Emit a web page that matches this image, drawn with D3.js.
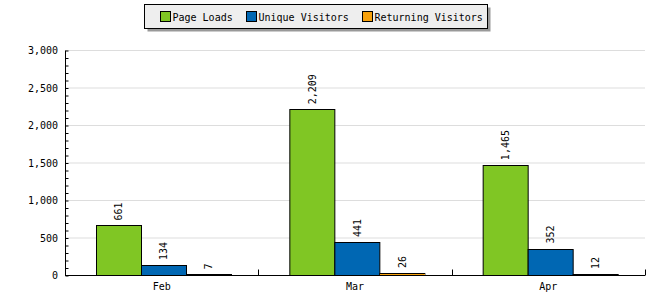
<!DOCTYPE html>
<html>
<head>
<meta charset="utf-8">
<script src="https://cdn.jsdelivr.net/npm/d3@7"></script>
<style>
  body { margin: 0; background: #fff; }
  text { font-family: "DejaVu Sans Mono", monospace; font-size: 10px; fill: #000; }
</style>
</head>
<body>
<svg width="650" height="300"></svg>
<script>
const months = ['Feb', 'Mar', 'Apr'];
const seriesNames = ['Page Loads', 'Unique Visitors', 'Returning Visitors'];
const pageLoads = [661, 2209, 1465];
const uniqueVisitors = [134, 441, 352];
const returningVisitors = [7, 26, 12];
const yTicks = [0, 500, 1000, 1500, 2000, 2500, 3000];
const colors = ['#80c624', '#0067b3', '#f7a10c'];

const series = [pageLoads, uniqueVisitors, returningVisitors];
const data = months.map((m, i) => ({
  month: m,
  values: series.map((s, j) => ({ key: seriesNames[j], value: s[i] }))
}));

const svg = d3.select('svg');
const plotLeft = 65, plotRight = 645, plotTop = 50, plotBottom = 275;

const x0 = d3.scaleBand().domain(months).range([plotLeft, plotRight]);
const x1 = d3.scaleBand().domain(seriesNames).range([0, x0.bandwidth()]).paddingOuter(0.65).align(0.53);
const y = d3.scaleLinear().domain([0, 3000]).range([plotBottom, plotTop]);
const color = d3.scaleOrdinal().domain(seriesNames).range(colors);

// gridlines
svg.append('g')
  .selectAll('line')
  .data(yTicks.filter(d => d > 0))
  .join('line')
  .attr('x1', plotLeft + 1).attr('x2', plotRight)
  .attr('y1', d => y(d) + 0.5).attr('y2', d => y(d) + 0.5)
  .attr('stroke', '#dddddd');

// y axis, major + minor ticks pointing inside
const yAxis = svg.append('g').attr('transform', `translate(${plotLeft + 0.5},0.5)`);
yAxis.call(d3.axisRight(y).tickValues(d3.range(0, 3001, 100)).tickSize(3).tickFormat(''))
  .call(g => g.select('.domain').remove());
yAxis.selectAll('line').attr('stroke', '#000');
yAxis.append('line').attr('x1', 0).attr('x2', 0).attr('y1', plotTop).attr('y2', plotBottom).attr('stroke', '#000');

svg.append('g')
  .selectAll('text')
  .data(yTicks)
  .join('text')
  .attr('x', plotLeft - 7)
  .attr('y', d => y(d) + 4)
  .attr('text-anchor', 'end')
  .text(d3.format(','));

// bars
const groups = svg.append('g')
  .selectAll('g')
  .data(data)
  .join('g')
  .attr('transform', d => `translate(${x0(d.month)},0)`);

groups.selectAll('rect')
  .data(d => d.values)
  .join('rect')
  .attr('x', d => Math.round(x1(d.key)) + 0.5)
  .attr('y', d => Math.round(y(d.value)) + 0.5)
  .attr('width', Math.round(x1.bandwidth()))
  .attr('height', d => Math.max(0, plotBottom - Math.round(y(d.value))))
  .attr('fill', d => color(d.key))
  .attr('stroke', '#000');

groups.selectAll('text')
  .data(d => d.values)
  .join('text')
  .attr('transform', d => `translate(${x1(d.key) + x1.bandwidth() / 2 + 4},${y(d.value) - 5}) rotate(-90)`)
  .text(d => d3.format(',')(d.value));

// x axis
const xAxis = svg.append('g').attr('transform', `translate(0,${plotBottom + 0.5})`);
xAxis.append('line').attr('x1', plotLeft).attr('x2', plotRight).attr('stroke', '#000');
xAxis.selectAll('line.tick')
  .data(months)
  .join('line')
  .attr('class', 'tick')
  .attr('x1', d => Math.round(x0(d) + x0.bandwidth()) + 0.5)
  .attr('x2', d => Math.round(x0(d) + x0.bandwidth()) + 0.5)
  .attr('y1', 0).attr('y2', -6)
  .attr('stroke', '#000');
xAxis.selectAll('text')
  .data(months)
  .join('text')
  .attr('x', d => x0(d) + x0.bandwidth() / 2)
  .attr('y', 14)
  .attr('text-anchor', 'middle')
  .text(d => d);

// legend
const legend = svg.append('g').attr('transform', 'translate(144.5,4.5)');
legend.append('rect').attr('x', 3).attr('y', 3).attr('width', 343).attr('height', 24).attr('fill', '#999');
legend.append('rect').attr('width', 343).attr('height', 24).attr('fill', '#eeeeee').attr('stroke', '#000');
const itemX = [16, 102, 218];
const items = legend.selectAll('g.item')
  .data(seriesNames)
  .join('g')
  .attr('class', 'item')
  .attr('transform', (d, i) => `translate(${itemX[i]},7)`);
items.append('rect').attr('width', 10).attr('height', 10).attr('fill', d => color(d)).attr('stroke', '#000');
items.append('text').attr('x', 12).attr('y', 9).text(d => d);
</script>
</body>
</html>
